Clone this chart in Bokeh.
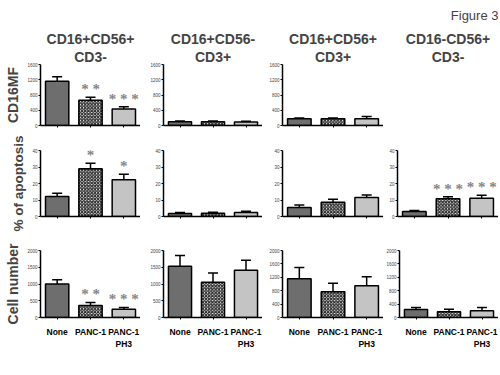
from bokeh.plotting import figure
from bokeh.models import (FactorRange, Range1d, ColumnDataSource, Whisker, TeeHead,
                          Title, FixedTicker, LabelSet)
from bokeh.layouts import row, column
from bokeh.embed import file_html
from bokeh.resources import INLINE

# ---------------- data ----------------
groups = ["None", "PANC-1", "PANC-1\nPH3"]
col_titles = [("CD16+CD56+", "CD3-"), ("CD16+CD56-", "CD3+"),
              ("CD16+CD56+", "CD3+"), ("CD16-CD56+", "CD3-")]
row_labels = ["CD16MF", "% of apoptosis", "Cell number"]
fig_label = "Figure 3"

# CD16 MFI (column 4 has no panel)
mf_mean = [[1160, 660, 430], [100, 100, 90], [180, 180, 175], None]
mf_err = [[120, 80, 60], [20, 15, 20], [20, 15, 60], None]
mf_stars = [["", "* *", "* * *"], ["", "", ""], ["", "", ""], None]
mf_ticks = [0, 400, 800, 1200, 1600]

# % of apoptosis
ap_mean = [[12.1, 28.9, 22.2], [1.8, 1.9, 2.4], [5.5, 8.7, 11.5], [3.0, 10.7, 11.1]]
ap_err = [[2.0, 3.4, 3.4], [0.7, 0.7, 0.8], [1.5, 1.8, 1.5], [0.6, 1.3, 1.8]]
ap_stars = [["", "*", "*"], ["", "", ""], ["", "", ""], ["", "* * *", "* * *"]]
ap_ticks = [0, 10, 20, 30, 40]

# Cell number
cn_mean = [[1000, 360, 250], [1530, 1050, 1410], [1160, 770, 950], [240, 170, 200]]
cn_err = [[130, 90, 50], [320, 280, 300], [330, 250, 270], [60, 80, 100]]
cn_stars = [["", "* *", "* * *"], ["", "", ""], ["", "", ""], ["", "", ""]]
cn_ticks = [[0, 500, 1000, 1500, 2000], [0, 500, 1000, 1500, 2000],
            [0, 400, 800, 1200, 1600, 2000], [0, 400, 800, 1200, 1600, 2000]]

# ---------------- layout constants ----------------
FONT = "Liberation Sans"
col_left = [40, 23, 20, 14]
col_frame = [100, 99, 101, 101]
row_top = [59, 17, 17]
row_frame = [66, 66, 67]
row_bottom = [8, 17, 44]

bar_fill = ["#6e6e6e", "white", "#c4c4c4"]
bar_hatch = [" ", "diagonal_cross", " "]


def base_fig(c, r, ymax):
    p = figure(x_range=FactorRange(factors=groups), y_range=Range1d(0, ymax),
               width=col_left[c] + col_frame[c],
               height=row_top[r] + row_frame[r] + row_bottom[r],
               output_backend="svg", toolbar_location=None,
               min_border_left=col_left[c], min_border_right=0,
               min_border_top=row_top[r], min_border_bottom=row_bottom[r])
    p.xgrid.visible = False
    p.ygrid.visible = False
    p.outline_line_color = None
    p.background_fill_color = "white"
    p.border_fill_color = "white"
    return p


def panel(c, r, mean, err, stars, ticks, ymax):
    p = base_fig(c, r, ymax)
    top = [m + e for m, e in zip(mean, err)]
    src = ColumnDataSource(dict(x=groups, mean=mean, top=top, stars=stars,
                                fill=bar_fill, hatch=bar_hatch))
    p.vbar(x="x", top="mean", width=0.7, source=src, fill_color="fill",
           hatch_pattern="hatch", hatch_color="#303030", hatch_scale=3.2,
           hatch_weight=1.3, line_color="black", line_width=1.5)
    w = Whisker(source=src, base="x", lower="mean", upper="top",
                dimension="height", line_color="black", line_width=1.5,
                lower_head=None,
                upper_head=TeeHead(size=10, line_color="black", line_width=1.5),
                level="overlay")
    p.add_layout(w)
    lbl = LabelSet(x="x", y="top", text="stars", source=src, text_align="center",
                   text_baseline="top", y_offset=16, text_color="#858585",
                   text_font=FONT, text_font_style="bold", text_font_size="15px")
    p.add_layout(lbl)

    ya = p.yaxis[0]
    ya.ticker = FixedTicker(ticks=ticks)
    ya.major_label_text_font_size = "4.5px"
    ya.major_label_text_font = FONT
    ya.major_label_standoff = 1
    ya.major_tick_out = 2
    ya.major_tick_in = 0
    ya.minor_tick_line_color = None
    ya.axis_line_width = 1.5
    ya.major_tick_line_width = 1

    xa = p.xaxis[0]
    xa.axis_line_width = 1.5
    xa.major_tick_out = 2
    xa.major_tick_in = 0
    xa.major_tick_line_width = 1
    if r == 2:
        xa.major_label_text_font = FONT
        xa.major_label_text_font_style = "bold"
        xa.major_label_text_font_size = "8.5px"
        xa.major_label_standoff = 7
        xa.major_label_text_color = "black"
    else:
        xa.major_label_text_font_size = "1px"
        xa.major_label_text_color = None
        xa.major_label_standoff = 0

    if c == 0:
        ya.axis_label = row_labels[r]
        ya.axis_label_text_font = FONT
        ya.axis_label_text_font_style = "bold"
        ya.axis_label_text_font_size = "13.5px" if r == 1 else "14px"
        ya.axis_label_standoff = 3
    return p


def add_titles(p, c):
    l1, l2 = col_titles[c]
    p.add_layout(Title(text=l2, align="center", text_font=FONT,
                       text_font_style="bold", text_font_size="14px",
                       standoff=0), "above")
    p.add_layout(Title(text=l1, align="center", text_font=FONT,
                       text_font_style="bold", text_font_size="14px",
                       standoff=0), "above")


rows = []
r1 = []
for c in range(4):
    if mf_mean[c] is None:
        p = base_fig(c, 0, 1600)
        p.xaxis.visible = False
        p.yaxis.visible = False
    else:
        p = panel(c, 0, mf_mean[c], mf_err[c], mf_stars[c], mf_ticks, 1600)
    add_titles(p, c)
    if c == 3:
        p.add_layout(Title(text=fig_label, align="right", text_font=FONT,
                           text_font_style="normal", text_font_size="13px",
                           standoff=11), "above")
    r1.append(p)
rows.append(row(*r1))

r2 = [panel(c, 1, ap_mean[c], ap_err[c], ap_stars[c], ap_ticks, 40) for c in range(4)]
rows.append(row(*r2))

r3 = [panel(c, 2, cn_mean[c], cn_err[c], cn_stars[c], cn_ticks[c], 2000) for c in range(4)]
rows.append(row(*r3))

layout = column(*rows)

open("out.html", "w").write(file_html(layout, INLINE))
